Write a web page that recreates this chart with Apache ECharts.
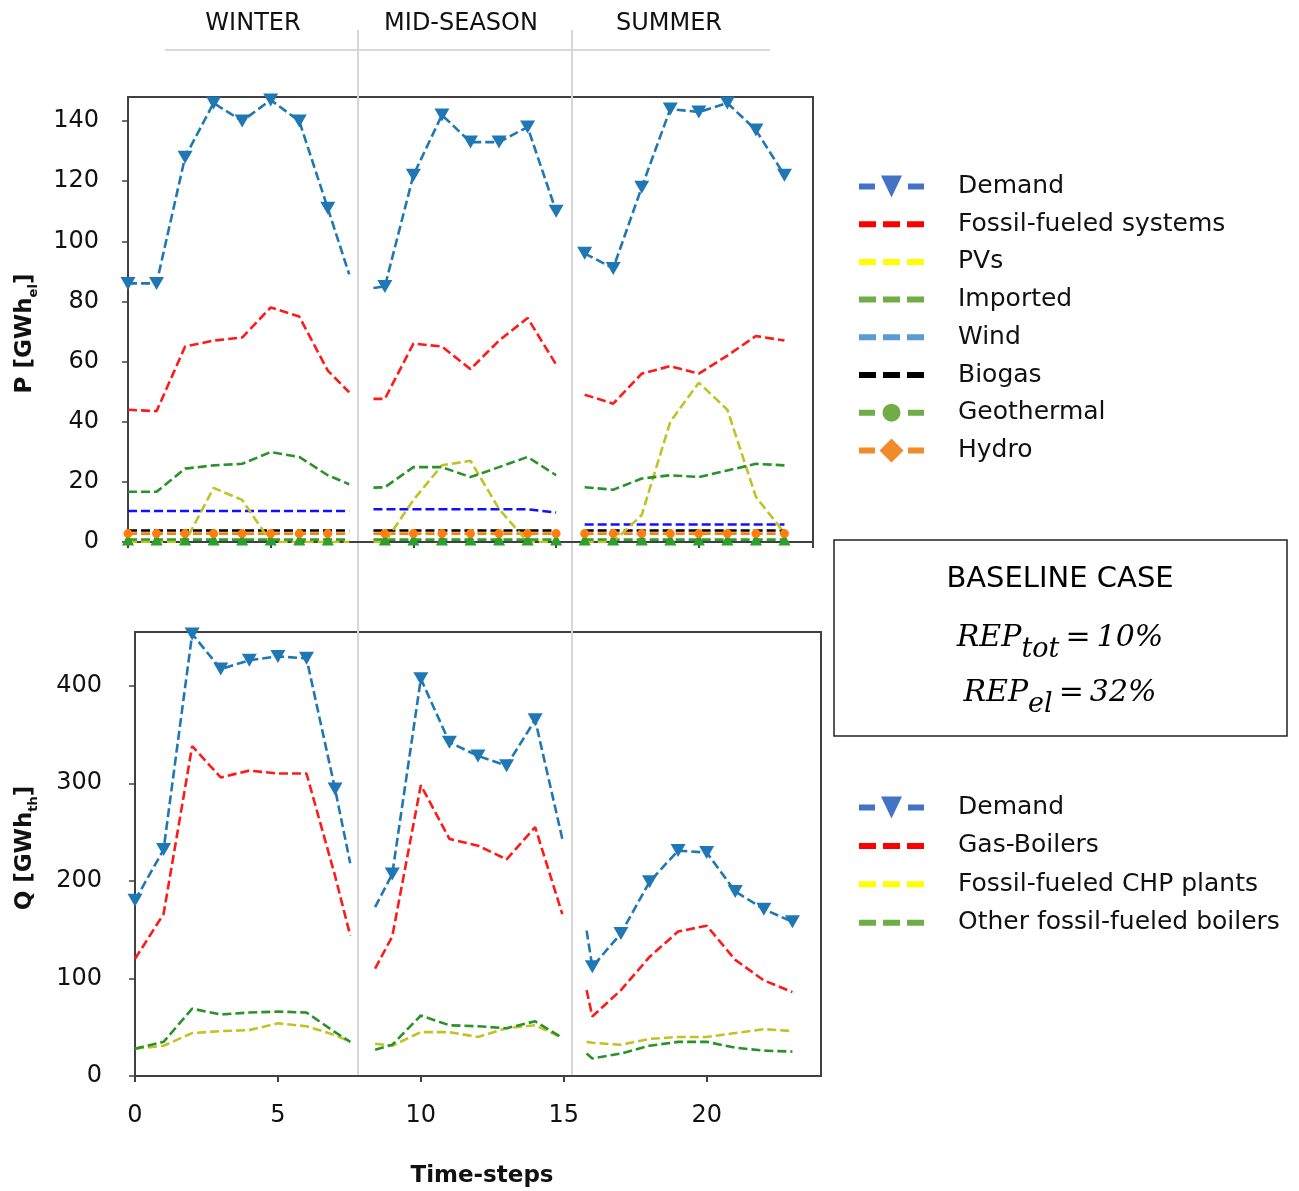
<!DOCTYPE html>
<html>
<head>
<meta charset="utf-8">
<script src="https://cdn.jsdelivr.net/npm/echarts@6/dist/echarts.min.js"></script>
<style>
  html, body { margin: 0; padding: 0; background: #fff; }
  #chart { width: 1299px; height: 1191px; }
</style>
</head>
<body>
<div id="chart"></div>
<script>
// time-step panels as cut in the figure: [start, end] of each season
const pPanels = [[0, 7.75], [8.6, 15], [16, 23]]
const qPanels = [[0, 7.53], [8.4, 14.95], [15.8, 23]]
const seasons = ['WINTER', 'MID-SEASON', 'SUMMER']

// electricity P [GWh_el], one value per time-step (null = hidden by the cut)
const pDemand = [86, 86, 128, 146, 140, 147, 140, 111, null, 85, 122, 142, 133, 133, 138, 110, 96, 91, 118, 144, 143, 146, 137, 122]
const pFossil = [44, 43.5, 65, 67, 68, 78, 75, 57, null, 47.6, 66, 65, 57.5, 67, 74.5, 59, 49, 46, 56, 58.5, 56, 62, 68.5, 67]
const pPV = [0, 0, 0, 18, 14, 0, 0, 0, null, 0, 14, 25.5, 27, 11, 0, 0, 0, 0, 9, 40, 53, 44, 15, 3]
const pImported = [16.7, 16.7, 24.4, 25.5, 26, 29.9, 28.3, 22.2, null, 18.2, 24.9, 24.9, 21.6, 24.9, 28.3, 22.2, 18.2, 17.4, 21.1, 22.2, 21.6, 23.8, 26, 25.5]
const pWind = [10.3, 10.3, 10.3, 10.3, 10.3, 10.3, 10.3, 10.3, null, 10.9, 10.9, 10.9, 10.9, 10.9, 10.9, 9.8, 5.8, 5.8, 5.8, 5.8, 5.8, 5.8, 5.8, 5.8]
const pBiogas = [3.8, 3.8, 3.8, 3.8, 3.8, 3.8, 3.8, 3.8, null, 3.8, 3.8, 3.8, 3.8, 3.8, 3.8, 3.8, 3.8, 3.8, 3.8, 3.8, 3.8, 3.8, 3.8, 3.8]
const pGeo = [0.8, 0.8, 0.8, 0.8, 0.8, 0.8, 0.8, 0.8, null, 0.8, 0.8, 0.8, 0.8, 0.8, 0.8, 0.8, 0.8, 0.8, 0.8, 0.8, 0.8, 0.8, 0.8, 0.8]
const pHydro = [2.8, 2.8, 2.8, 2.8, 2.8, 2.8, 2.8, 2.8, null, 2.8, 2.8, 2.8, 2.8, 2.8, 2.8, 2.8, 2.8, 2.8, 2.8, 2.8, 2.8, 2.8, 2.8, 2.8]
// values where lines are cut (end of winter, start of mid-season)
const pDemandEdges = [89, 84.5]
const pFossilEdges = [49.8, 47.6]
const pPVEdges = [0, 0]
const pImportedEdges = [19.2, 18.1]
const pWindEdges = [10.3, 10.9]
const pBiogasEdges = [3.8, 3.8]
const pGeoEdges = [0.8, 0.8]
const pHydroEdges = [2.8, 2.8]

// heat Q [GWh_th]
const qDemand = [180, 232, 453, 417, 426, 430, 428, 294, null, 207, 407, 342, 328, 318, 365, null, 112, 146, 199, 231, 229, 189, 171, 158]
const qGas = [120, 166, 338, 306, 313, 310, 310, 205, null, 143, 298, 243, 236, 222, 255, null, 61, 88, 122, 148, 154, 119, 98, 86]
const qCHP = [28, 31, 44, 46, 47, 54, 51, 42, null, 31, 45, 45, 40, 49, 52, null, 34, 32, 38, 40, 40, 44, 48, 46]
const qOther = [28, 35, 69, 63, 65, 66, 65, 45, null, 32, 62, 52, 51, 49, 56, null, 18, 23, 31, 35, 35, 29, 26, 25]
// cut values: winter end, mid-season start, mid-season end, summer start
const qDemandEdges = [218, 173, 243, 149]
const qGasEdges = [144, 110, 166, 88]
const qCHPEdges = [35, 33, 39, 35]
const qOtherEdges = [35, 27, 39, 23]

const FONT = 'DejaVu Sans'
const SERIF = 'DejaVu Serif'
const TXT = '#111'

// legend icons (frame 94x24, drawing in the first 65px)
const FRAME = 'M0,0M94,24'
const ICON_DASH = 'path://' + FRAME + 'M0,9h17v6h-17zM24,9h17v6h-17zM48,9h17v6h-17z'
const ICON_TRI = 'path://' + FRAME + 'M0,9h16v6h-16zM49,9h16v6h-16zM22,1h21l-10.5,22z'
const ICON_DOT = 'path://' + FRAME + 'M0,9h16v6h-16zM49,9h16v6h-16zM23.5,12a9,9 0 1,0 18,0a9,9 0 1,0 -18,0z'
const ICON_DIA = 'path://' + FRAME + 'M0,9h16v6h-16zM49,9h16v6h-16zM32.5,0l12,12l-12,12l-12,-12z'

function buildLine(values, edges, panels) {
  const out = []
  let e = 0
  panels.forEach(([a, b], k) => {
    if (k > 0) out.push([(panels[k - 1][1] + a) / 2, '-'])
    if (!Number.isInteger(a)) out.push({ value: [a, edges[e++]], symbol: 'none' })
    for (let i = Math.ceil(a); i <= Math.floor(b); i++) out.push([i, values[i]])
    if (!Number.isInteger(b)) out.push({ value: [b, edges[e++]], symbol: 'none' })
  })
  return out
}

function line(name, idx, values, edges, color, extra) {
  const panels = idx === 0 ? pPanels : qPanels
  return Object.assign({
    type: 'line',
    name: name,
    xAxisIndex: idx,
    yAxisIndex: idx,
    data: buildLine(values, edges, panels),
    symbol: 'none',
    lineStyle: { color: color, width: 2.6, type: [9, 4] },
    itemStyle: { color: color },
    z: 2
  }, extra || {})
}

const chart = echarts.init(document.getElementById('chart'))

const xAxisBase = {
  type: 'value',
  min: 0,
  max: 24,
  interval: 5,
  splitLine: { show: false },
  axisLine: { show: true, lineStyle: { color: '#404040', width: 2 } },
  axisTick: { show: true, length: 6, lineStyle: { color: '#404040', width: 2 } }
}
const yAxisBase = {
  type: 'value',
  min: 0,
  splitLine: { show: false },
  axisLine: { show: true, lineStyle: { color: '#404040', width: 2 } },
  axisTick: { show: true, length: 6, lineStyle: { color: '#404040', width: 1.5 } },
  axisLabel: { showMaxLabel: false, fontFamily: FONT, fontSize: 24, color: TXT },
  nameLocation: 'middle',
  nameTextStyle: {
    fontFamily: FONT, fontWeight: 'bold', fontSize: 23, color: TXT, lineHeight: 30,
    rich: { s: { fontFamily: FONT, fontWeight: 'bold', fontSize: 13, color: TXT, lineHeight: 30, verticalAlign: 'bottom' } }
  }
}

const legendText = { fontFamily: FONT, fontSize: 25, color: TXT, lineHeight: 24 }

const repRich = {
  m: { fontFamily: SERIF, fontStyle: 'italic', fontSize: 30, fill: '#000', lineHeight: 50, verticalAlign: 'middle' },
  e: { fontFamily: SERIF, fontStyle: 'italic', fontSize: 30, fill: '#000', lineHeight: 50, verticalAlign: 'middle', padding: [0, 6, 0, 6] },
  s: { fontFamily: SERIF, fontStyle: 'italic', fontSize: 27, fill: '#000', lineHeight: 50, verticalAlign: 'bottom' }
}

const option = {
  animation: false,
  backgroundColor: '#fff',
  grid: [
    { left: 128, top: 97, width: 685, height: 445, show: true, borderColor: '#404040', borderWidth: 2 },
    { left: 135, top: 632, width: 686, height: 444, show: true, borderColor: '#404040', borderWidth: 2 }
  ],
  xAxis: [
    Object.assign({}, xAxisBase, { gridIndex: 0, axisLabel: { show: false } }),
    Object.assign({}, xAxisBase, {
      gridIndex: 1,
      axisLabel: { showMaxLabel: false, fontFamily: FONT, fontSize: 24, color: TXT, margin: 28 },
      name: 'Time-steps',
      nameLocation: 'middle',
      nameGap: 89,
      nameTextStyle: { fontFamily: FONT, fontWeight: 'bold', fontSize: 23, color: TXT, padding: [0, 0, 0, 8] }
    })
  ],
  yAxis: [
    Object.assign({}, yAxisBase, {
      gridIndex: 0, max: 148, interval: 20,
      name: 'P [GWh{s|el}]', nameGap: 88,
      nameTextStyle: Object.assign({}, yAxisBase.nameTextStyle, { padding: [0, 28, 0, 0] }),
      axisLabel: Object.assign({}, yAxisBase.axisLabel, { margin: 29 })
    }),
    Object.assign({}, yAxisBase, {
      gridIndex: 1, max: 455, interval: 100,
      name: 'Q [GWh{s|th}]', nameGap: 95,
      nameTextStyle: Object.assign({}, yAxisBase.nameTextStyle, { padding: [0, 0, 0, 12] }),
      axisLabel: Object.assign({}, yAxisBase.axisLabel, { margin: 33 })
    })
  ],
  legend: [
    {
      left: 859, top: 174, padding: 0, orient: 'vertical', itemWidth: 94, itemHeight: 24, itemGap: 12.7,
      selectedMode: false,
      textStyle: legendText,
      data: [
        { name: 'Demand', icon: ICON_TRI, itemStyle: { color: '#4472c4', borderWidth: 0 } },
        { name: 'Fossil-fueled systems', icon: ICON_DASH, itemStyle: { color: '#ff0000', borderWidth: 0 } },
        { name: 'PVs', icon: ICON_DASH, itemStyle: { color: '#ffff00', borderWidth: 0 } },
        { name: 'Imported', icon: ICON_DASH, itemStyle: { color: '#70ad47', borderWidth: 0 } },
        { name: 'Wind', icon: ICON_DASH, itemStyle: { color: '#5b9bd5', borderWidth: 0 } },
        { name: 'Biogas', icon: ICON_DASH, itemStyle: { color: '#000000', borderWidth: 0 } },
        { name: 'Geothermal', icon: ICON_DOT, itemStyle: { color: '#70ad47', borderWidth: 0 } },
        { name: 'Hydro', icon: ICON_DIA, itemStyle: { color: '#f08a2a', borderWidth: 0 } }
      ]
    },
    {
      left: 859, top: 795, padding: 0, orient: 'vertical', itemWidth: 94, itemHeight: 24, itemGap: 13.4,
      selectedMode: false,
      textStyle: legendText,
      data: [
        { name: 'Demand', icon: ICON_TRI, itemStyle: { color: '#4472c4', borderWidth: 0 } },
        { name: 'Gas-Boilers', icon: ICON_DASH, itemStyle: { color: '#ff0000', borderWidth: 0 } },
        { name: 'Fossil-fueled CHP plants', icon: ICON_DASH, itemStyle: { color: '#ffff00', borderWidth: 0 } },
        { name: 'Other fossil-fueled boilers', icon: ICON_DASH, itemStyle: { color: '#70ad47', borderWidth: 0 } }
      ]
    }
  ],
  graphic: [
    // season headers and separators
    { type: 'line', shape: { x1: 165, y1: 50, x2: 770, y2: 50 }, style: { stroke: '#d9d9d9', lineWidth: 2 }, z: 0 },
    { type: 'line', shape: { x1: 358, y1: 30, x2: 358, y2: 1075 }, style: { stroke: '#d6d6d6', lineWidth: 2 }, z: 0 },
    { type: 'line', shape: { x1: 572, y1: 30, x2: 572, y2: 1075 }, style: { stroke: '#d6d6d6', lineWidth: 2 }, z: 0 },
    { type: 'text', style: { text: seasons[0], x: 253, y: 24, align: 'center', verticalAlign: 'middle', fontFamily: FONT, fontSize: 24, fill: TXT } },
    { type: 'text', style: { text: seasons[1], x: 461, y: 24, align: 'center', verticalAlign: 'middle', fontFamily: FONT, fontSize: 24, fill: TXT } },
    { type: 'text', style: { text: seasons[2], x: 669, y: 24, align: 'center', verticalAlign: 'middle', fontFamily: FONT, fontSize: 24, fill: TXT } },
    // case box
    { type: 'rect', shape: { x: 834, y: 540, width: 453, height: 196 }, style: { fill: '#fff', stroke: '#222', lineWidth: 1.5 }, z: 10 },
    { type: 'text', z: 11, style: { text: 'BASELINE CASE', x: 1060, y: 579, align: 'center', verticalAlign: 'middle', fontFamily: FONT, fontSize: 29, fill: '#000' } },
    { type: 'text', z: 11, style: { text: '{m|REP}{s|tot}{e|=}{m|10%}', x: 1060, y: 638, align: 'center', verticalAlign: 'middle', rich: repRich } },
    { type: 'text', z: 11, style: { text: '{m|REP}{s|el}{e|=}{m|32%}', x: 1060, y: 693, align: 'center', verticalAlign: 'middle', rich: repRich } }
  ],
  series: [
    line('Geothermal', 0, pGeo, pGeoEdges, '#2ca02c', { symbol: 'triangle', symbolSize: 12 }),
    line('Hydro', 0, pHydro, pHydroEdges, '#ff7f0e', { symbol: 'circle', symbolSize: 9 }),
    line('Biogas', 0, pBiogas, pBiogasEdges, '#000000'),
    line('Wind', 0, pWind, pWindEdges, '#1010ff'),
    line('PVs', 0, pPV, pPVEdges, '#c2c223'),
    line('Imported', 0, pImported, pImportedEdges, '#2a922a'),
    line('Fossil-fueled systems', 0, pFossil, pFossilEdges, '#ff1a1a'),
    line('Demand', 0, pDemand, pDemandEdges, '#1f77b4', { symbol: 'triangle', symbolRotate: 180, symbolSize: [15, 13], z: 3 }),

    line('Fossil-fueled CHP plants', 1, qCHP, qCHPEdges, '#c2c223'),
    line('Other fossil-fueled boilers', 1, qOther, qOtherEdges, '#2a922a'),
    line('Gas-Boilers', 1, qGas, qGasEdges, '#ff1a1a'),
    line('Demand', 1, qDemand, qDemandEdges, '#1f77b4', { symbol: 'triangle', symbolRotate: 180, symbolSize: [15, 13], z: 3 })
  ]
}

chart.setOption(option)
</script>
</body>
</html>
